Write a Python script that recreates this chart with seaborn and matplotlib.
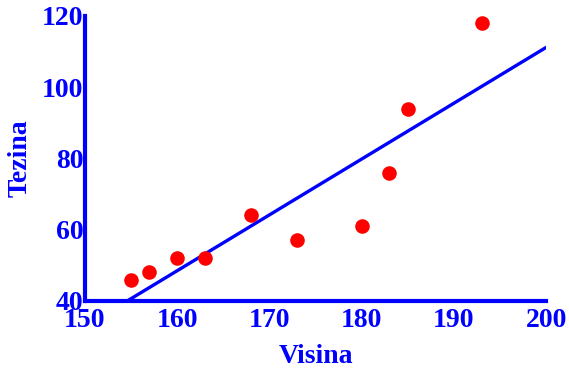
import seaborn as sns
import pandas as pd
import matplotlib
matplotlib.use('Agg')
import matplotlib.pyplot as plt

visina = [155, 157, 160, 163, 168, 173, 180, 183, 185, 193]
tezina = [46, 48, 52, 52, 64, 57, 61, 76, 94, 118]
xticks = [150, 160, 170, 180, 190, 200]
yticks = [40, 60, 80, 100, 120]

def crtaj():
    sns.set_style('white')
    plt.rcParams['font.family'] = ['Liberation Serif', 'DejaVu Serif']
    plt.rcParams['font.weight'] = 'bold'
    df = pd.DataFrame({'Visina': visina, 'Tezina': tezina})

    fig = plt.figure(figsize=(5.69, 3.71), dpi=100)
    ax = fig.add_axes([0.149, 0.189, 0.811, 0.768])
    ax.set_xlim(150, 200)
    ax.set_ylim(40, 120)

    # regresijska prava + tacke
    sns.regplot(x='Visina', y='Tezina', data=df, ci=None, truncate=False, ax=ax,
                scatter_kws={'color': 'red', 's': 110, 'alpha': 1, 'zorder': 3, 'linewidths': 0},
                line_kws={'color': 'blue', 'lw': 2.4})
    ax.set_xlim(150, 200)
    ax.set_ylim(40, 120)

    sns.despine(ax=ax)
    for s in ['left', 'bottom']:
        ax.spines[s].set_color('blue')
        ax.spines[s].set_linewidth(3)
        ax.spines[s].set_zorder(4)
    ax.set_xticks(xticks)
    ax.set_yticks(yticks)
    ax.tick_params(axis='both', direction='in', length=3, width=3, colors='blue',
                   labelsize=20)
    ax.tick_params(axis='x', pad=5)
    ax.tick_params(axis='y', pad=1)
    for lbl in ax.get_xticklabels() + ax.get_yticklabels():
        lbl.set_fontweight('bold')
    ax.set_xlabel('Visina', color='blue', fontsize=20, fontweight='bold', labelpad=8)
    ax.set_ylabel('Tezina', color='blue', fontsize=20, fontweight='bold', labelpad=7)

    fig.savefig('out.png', dpi=100)

if __name__ == '__main__':
    crtaj()
